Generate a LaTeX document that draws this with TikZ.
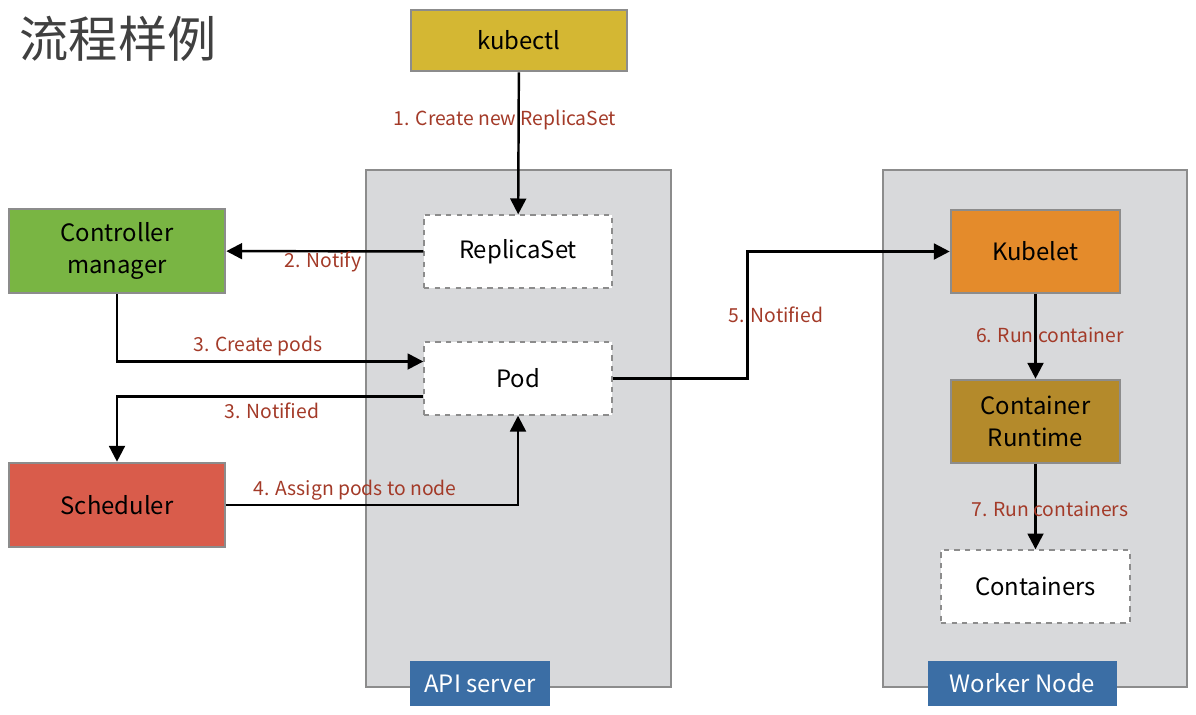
\documentclass[tikz,border=0pt]{standalone}
\usepackage{fontspec}
\setmainfont{Noto Sans CJK SC}
\usetikzlibrary{positioning}
\usetikzlibrary{calc}
\usetikzlibrary{arrows.meta}
\definecolor{kubegold}{HTML}{D4B733}
\definecolor{ctrlgreen}{HTML}{79B543}
\definecolor{schedred}{HTML}{D95C4B}
\definecolor{kubeorange}{HTML}{E48B2B}
\definecolor{rtbrown}{HTML}{B48A2B}
\definecolor{panelgray}{HTML}{D8D9DB}
\definecolor{rimgray}{HTML}{8C8C8C}
\definecolor{tagblue}{HTML}{3B6EA5}
\definecolor{steptext}{HTML}{A33A28}
\tikzset{
	panel/.style={draw=rimgray, line width=1.5pt, fill=panelgray},
	solidbox/.style={draw=rimgray, line width=1.5pt, font=\fontsize{13.6}{18}\selectfont, align=center, inner sep=0pt},
	dashbox/.style={draw=rimgray, dashed, line width=0.8pt, fill=white, font=\fontsize{13.6}{18}\selectfont, minimum width=3.76cm, minimum height=1.46cm},
	tag/.style={fill=tagblue, text=white, font=\fontsize{13.6}{18}\selectfont, minimum height=0.9cm},
	steplbl/.style={text=steptext, font=\fontsize{11}{13}\selectfont},
	flow/.style={draw, line width=1.4pt, -{Triangle[length=9pt,width=9pt]}}
}

\begin{document}
\begin{tikzpicture}[x=0.02cm,y=-0.02cm]
	\useasboundingbox (0,0) rectangle (1196,714);
	\node[text=black!75, font=\fontsize{28}{30}\selectfont] (title) at (118,39){流程样例};
	% the two panels
	\draw[panel] (366,170) rectangle (671,687);
	\draw[panel] (883,170) rectangle (1187,687);
	\node[tag, minimum width=2.8cm] (apitag) at (480,683.5){API server};
	\node[tag, minimum width=3.78cm] (wntag) at (1022.5,683.5){Worker Node};
	% boxes
	\node[solidbox, fill=kubegold, minimum width=4.32cm, minimum height=1.22cm] (kubectl) at (519,40.5){kubectl};
	\node[dashbox] (rs) at (518,251.5){ReplicaSet};
	\node[dashbox] (pod) at (518,378.5){Pod};
	\node[solidbox, fill=ctrlgreen, minimum width=4.32cm, minimum height=1.68cm] (cm) at (117,251){Controller\\manager};
	\node[solidbox, fill=schedred, minimum width=4.32cm, minimum height=1.68cm] (sch) at (117,505){Scheduler};
	\node[solidbox, fill=kubeorange, minimum width=3.38cm, minimum height=1.66cm] (kubelet) at (1035.5,251.5){Kubelet};
	\node[solidbox, fill=rtbrown, minimum width=3.38cm, minimum height=1.66cm] (cr) at (1035.5,421.5){Container\\Runtime};
	\node[dashbox, minimum width=3.78cm] (ctr) at (1035.5,586.5){Containers};
	% connectors
	\draw[flow] (kubectl) -- (rs);
	\draw[flow] (rs) -- (cm);
	\draw[flow] (cm.south) |- ($(pod.west)+(0,-17)$);
	\draw[flow] ($(pod.west)+(0,18)$) -| (sch.north);
	\draw[flow] (sch.east) -| (pod.south);
	\draw[flow] (pod.east) -- ++(135,0) |- (kubelet.west);
	\draw[flow] (kubelet) -- (cr);
	\draw[flow] (cr) -- (ctr);
	% step labels
	\node[steplbl] at (505,120){1. Create new ReplicaSet};
	\node[steplbl] at (323,262){2. Notify};
	\node[steplbl] at (258,346){3. Create pods};
	\node[steplbl] at (272,411){3. Notified};
	\node[steplbl] at (355,490){4. Assign pods to node};
	\node[steplbl] at (776,315){5. Notified};
	\node[steplbl] at (1050,335){6. Run container};
	\node[steplbl] at (1050,509){7. Run containers};
\end{tikzpicture}
\end{document}
